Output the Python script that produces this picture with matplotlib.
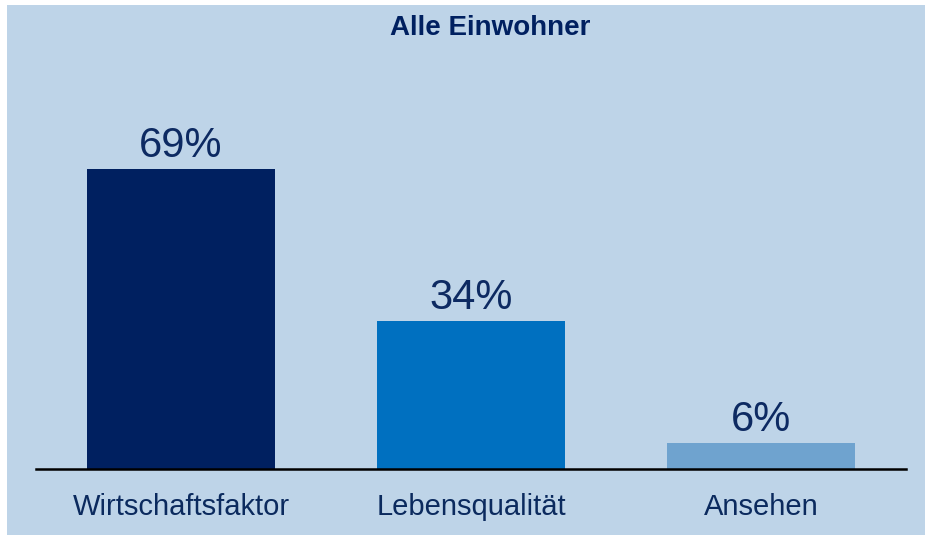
import matplotlib.pyplot as plt
from matplotlib.patches import Rectangle

# data
categories = ["Wirtschaftsfaktor", "Lebensqualität", "Ansehen"]
values = [69, 34, 6]
labels = ["69%", "34%", "6%"]
colors = ["#002060", "#0070C0", "#6FA3CF"]

bg = "#BED4E8"
txt = "#0B2A5E"

plt.rcParams['font.family'] = ['Liberation Sans', 'DejaVu Sans']

W, H = 925, 535
fig = plt.figure(figsize=(W / 100, H / 100), dpi=100)
fig.patch.set_facecolor("white")
# light blue panel, leaves a small white margin top and left
fig.add_artist(Rectangle((7 / W, 0), 1 - 7 / W, 1 - 5 / H, transform=fig.transFigure,
                         facecolor=bg, edgecolor="none", zorder=-10))

ax = fig.add_axes([36 / W, (H - 469) / H, 870 / W, 419 / H])
ax.set_facecolor("none")
x = list(range(len(categories)))
bars = ax.bar(x, values, width=0.645, color=colors, zorder=2)
ax.set_xlim(-0.5, 2.5)
ax.set_ylim(0, 96.3)

for b, lab in zip(bars, labels):
    ax.annotate(lab, (b.get_x() + b.get_width() / 2, b.get_height()),
                xytext=(0, 2), textcoords="offset points", ha="center", va="bottom",
                fontsize=30, color="#0D2A62")

for s in ["top", "right", "left"]:
    ax.spines[s].set_visible(False)
ax.spines["bottom"].set_linewidth(1.8)
ax.spines["bottom"].set_color("black")
ax.set_yticks([])
ax.set_xticks(x)
ax.set_xticklabels(categories, fontsize=21, color=txt)
ax.tick_params(axis="x", length=0, pad=17)

fig.text(490 / W, 1 - 28 / H, "Alle Einwohner", ha="center", va="center",
         fontsize=20, fontweight="bold", color="#002060")

fig.savefig("out.png", dpi=100)
